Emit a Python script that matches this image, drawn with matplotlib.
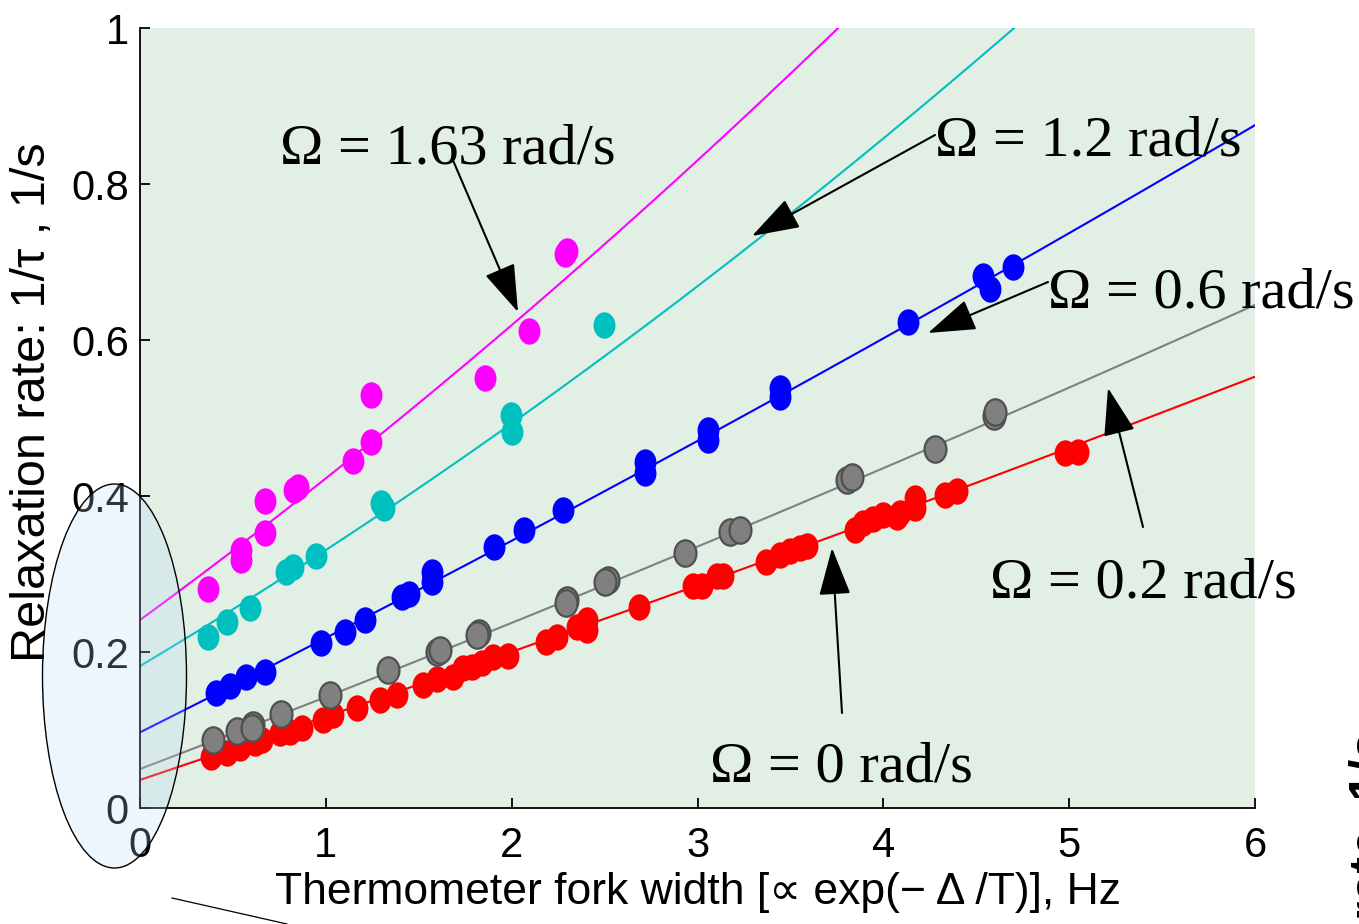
import numpy as np
import matplotlib
matplotlib.use("Agg")
import matplotlib.pyplot as plt
from matplotlib.path import Path
from matplotlib.patches import Ellipse
from matplotlib.lines import Line2D

# ---- measured relaxation rates for each rotation speed ----
x_0 = [0.381, 0.467, 0.538, 0.619, 0.655, 0.753, 0.807, 0.870, 0.987, 1.040,
       1.166, 1.292, 1.382, 1.525, 1.597, 1.686, 1.740, 1.785, 1.839, 1.902,
       1.982, 2.185, 2.246, 2.350, 2.404, 2.404, 2.686, 2.978, 3.023, 3.104,
       3.139, 3.369, 3.445, 3.498, 3.552, 3.588, 3.848, 3.893, 3.947, 4.000,
       4.073, 4.090, 4.171, 4.171, 4.333, 4.396, 4.978, 5.045]
y_0 = [0.066, 0.071, 0.077, 0.083, 0.087, 0.096, 0.098, 0.103, 0.113, 0.119,
       0.128, 0.138, 0.145, 0.158, 0.166, 0.168, 0.179, 0.181, 0.186, 0.194,
       0.195, 0.213, 0.219, 0.232, 0.241, 0.228, 0.258, 0.285, 0.284, 0.297,
       0.298, 0.316, 0.324, 0.329, 0.333, 0.336, 0.356, 0.365, 0.371, 0.376,
       0.373, 0.378, 0.384, 0.397, 0.401, 0.406, 0.455, 0.457]

x_02 = [0.395, 0.524, 0.607, 0.601, 0.759, 1.023, 1.335, 1.597, 1.615, 1.826,
        1.812, 2.297, 2.293, 2.520, 2.503, 2.933, 3.175, 3.229, 3.803, 3.830,
        4.279, 4.593, 4.602]
y_02 = [0.087, 0.099, 0.106, 0.103, 0.120, 0.145, 0.177, 0.200, 0.203, 0.224,
        0.222, 0.267, 0.263, 0.292, 0.290, 0.327, 0.354, 0.356, 0.421, 0.425,
        0.460, 0.502, 0.508]

x_06 = [0.409, 0.484, 0.571, 0.673, 0.974, 1.103, 1.211, 1.408, 1.449, 1.570,
        1.570, 1.905, 2.068, 2.278, 2.718, 2.718, 3.055, 3.055, 3.445, 3.445,
        4.135, 4.539, 4.575, 4.697]
y_06 = [0.147, 0.156, 0.168, 0.175, 0.212, 0.226, 0.241, 0.271, 0.274, 0.302,
        0.290, 0.334, 0.356, 0.382, 0.444, 0.429, 0.484, 0.472, 0.538, 0.527,
        0.623, 0.682, 0.666, 0.694]

x_12 = [0.364, 0.467, 0.590, 0.784, 0.823, 0.946, 1.297, 1.313, 1.997, 2.002,
        2.497]
y_12 = [0.219, 0.238, 0.256, 0.303, 0.309, 0.323, 0.391, 0.385, 0.504, 0.482,
        0.619]

x_163 = [0.364, 0.544, 0.544, 0.673, 0.673, 0.850, 0.830, 1.146, 1.243, 1.243,
         1.857, 2.094, 2.287, 2.300]
y_163 = [0.281, 0.331, 0.318, 0.394, 0.353, 0.412, 0.408, 0.445, 0.469, 0.529,
         0.551, 0.612, 0.710, 0.714]

# fit curves y = a + b*x + c*x^2
fit_0 = (0.036, 0.0801, 0.00101)
fit_02 = (0.050, 0.0909, 0.00138)
fit_06 = (0.097, 0.1193, 0.00174)
fit_12 = (0.182, 0.1419, 0.0068)
fit_163 = (0.241, 0.1742, 0.0074)

x_ticks = [0, 1, 2, 3, 4, 5, 6]
y_ticks = [0, 0.2, 0.4, 0.6, 0.8, 1]
y_tick_labels = ["0", "0.2", "0.4", "0.6", "0.8", "1"]

W, H = 1359, 924
fig = plt.figure(figsize=(W / 100, H / 100), dpi=100, facecolor="white")
ax = fig.add_axes([140 / W, (H - 808) / H, (1255 - 140) / W, (808 - 28) / H])
ax.set_facecolor("#e2efe5")

# slightly tall oval dot marker
circ = Path.unit_circle()
dot = Path(circ.vertices * np.array([0.83, 1.0]), circ.codes)

series = [
    (x_0, y_0, fit_0, "#ff0000", "#ff0000", 0.0),
    (x_02, y_02, fit_02, "#808080", "#505050", 1.6),
    (x_06, y_06, fit_06, "#0000ff", "#0000ff", 0.0),
    (x_12, y_12, fit_12, "#00bfbf", "#00bfbf", 0.0),
    (x_163, y_163, fit_163, "#ff00ff", "#ff00ff", 0.0),
]

xf = np.linspace(0, 6, 300)
for xs, ys, (a, b, c), col, ecol, elw in series:
    ax.plot(xf, a + b * xf + c * xf ** 2, color=col, lw=1.5, zorder=2)
for i, (xs, ys, fit, col, ecol, elw) in enumerate(series):
    ax.plot(xs, ys, linestyle="none", marker=dot, markersize=19,
            markerfacecolor=col, markeredgecolor=ecol, markeredgewidth=elw,
            zorder=3 + i)

ax.set_xlim(0, 6)
ax.set_ylim(0, 1)
ax.set_xticks(x_ticks)
ax.set_yticks(y_ticks)
ax.set_yticklabels(y_tick_labels)
for side in ("top", "right"):
    ax.spines[side].set_visible(False)
for side in ("left", "bottom"):
    ax.spines[side].set_linewidth(1.3)
sans = ["Liberation Sans", "DejaVu Sans"]
ax.tick_params(direction="in", length=7, width=1.3, labelsize=30)
ax.tick_params(axis="x", pad=13)
ax.tick_params(axis="y", pad=8)
for lab in ax.get_xticklabels() + ax.get_yticklabels():
    lab.set_family(sans)

ax.set_xlabel("Thermometer fork width [\u221d exp(\u2212 \u0394 /T)], Hz",
              fontsize=32, family=sans, labelpad=4)
ax.set_ylabel("Relaxation rate: 1/\u03c4 , 1/s", fontsize=35, family=sans)
ax.yaxis.set_label_coords(-0.076, 0.52)


def px(xp, yp):
    return (xp, H - yp)


# rotation-speed labels with pointer arrows
labels = [
    ("\u03a9 = 1.63 rad/s", (280, 163), (452, 158), (518, 312)),
    ("\u03a9 = 1.2 rad/s", (935, 155), (935, 135), (752, 236)),
    ("\u03a9 = 0.6 rad/s", (1048, 308), (1048, 282), (928, 333)),
    ("\u03a9 = 0.2 rad/s", (990, 598), (1143, 527), (1108, 388)),
    ("\u03a9 = 0 rad/s", (710, 782), (842, 713), (832, 548)),
]
for text, tpos, tail, head in labels:
    fig.text(tpos[0] / W, (H - tpos[1]) / H, text, ha="left", va="baseline",
             fontsize=42, family=["Liberation Serif", "DejaVu Serif"],
             zorder=10)
    ax.annotate("", xy=px(*head), xycoords="figure pixels",
                xytext=px(*tail), textcoords="figure pixels",
                arrowprops=dict(arrowstyle="-|>,head_length=1.5,head_width=0.5",
                                color="black", lw=1.5, mutation_scale=20,
                                shrinkA=0, shrinkB=0),
                zorder=10, annotation_clip=False)

# highlighted intercept region
oval = Ellipse((114.5 / W, (H - 676) / H), 144 / W, 384 / H,
               transform=fig.transFigure,
               facecolor=(184 / 255, 218 / 255, 247 / 255, 0.24),
               edgecolor="black", lw=1.0, zorder=20)
fig.add_artist(oval)
fig.add_artist(Line2D([172 / W, 287 / W], [(H - 898) / H, 0.0],
                      transform=fig.transFigure, color="black", lw=0.9,
                      zorder=20))

# edge of the neighbouring panel's axis title
fig.text(1349 / W, (H - 731) / H, "rate, 1/s", rotation=90, ha="left",
         va="top", fontsize=36, fontweight="bold", family=sans)

fig.savefig("out.png", dpi=100)
